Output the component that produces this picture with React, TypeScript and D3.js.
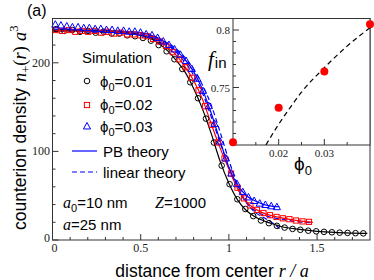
import React from "react";
import * as d3 from "d3";

// ---------- data ----------
// simulation, phi0 = 0.01 (black circles)
const simR01 = [0.022,0.067,0.112,0.156,0.201,0.245,0.29,0.335,0.379,0.424,0.468,0.513,0.558,0.602,0.647,0.691,0.736,0.781,0.825,0.87,0.915,0.959,1.004,1.048,1.093,1.138,1.182,1.227,1.272,1.316,1.361,1.405,1.45,1.495,1.539,1.584,1.628,1.673,1.718,1.762];
const simN01 = [238,236,237,235,236,234,235,233,233,231,230,228,225,220,213,204,193,178,160,137,110,84,63,46,35,27,22,19,16,14,12.5,11.5,10.5,9.8,9.2,8.7,8.3,8,7.7,7.5];
// simulation, phi0 = 0.02 (red squares)
const simR02 = [0.018,0.055,0.092,0.129,0.166,0.202,0.239,0.276,0.313,0.35,0.386,0.423,0.46,0.497,0.534,0.57,0.607,0.644,0.681,0.718,0.754,0.791,0.828,0.865,0.902,0.938,0.975,1.012,1.049,1.086,1.122,1.159,1.196,1.233,1.27,1.306,1.343,1.38,1.417,1.454];
const simN02 = [237,236,237,235,236,235,236,234,235,233,234,232,232,231,230,227,224,219,212,204,195,183,169,151,130,110,92,75,59,47,39,34,30.5,28,26,24.5,23.5,22,21,20.5];
// simulation, phi0 = 0.03 (blue triangles)
const simR03 = [0.016,0.048,0.081,0.113,0.145,0.177,0.209,0.242,0.274,0.306,0.338,0.37,0.403,0.435,0.467,0.499,0.531,0.564,0.596,0.628,0.66,0.692,0.725,0.757,0.789,0.821,0.853,0.886,0.918,0.95,0.982,1.014,1.046,1.079,1.111,1.143,1.175,1.207,1.24,1.272];
const simN03 = [243,242,241,240,240,239,239,238,238,237,237,236,236,235,235,234,232,231,228,224,220,215,209,202,193,182,168,151,131,111,92,75,63,54,48,44,41,39.5,38,37];

// PB theory (solid)
const pbR01 = [0,0.1,0.2,0.3,0.4,0.5,0.55,0.6,0.65,0.7,0.75,0.8,0.85,0.9,0.95,1.0,1.05,1.1,1.15,1.2,1.25,1.3,1.4,1.5,1.6,1.7,1.785];
const pbN01 = [237,236.5,236,235,233.5,231,228,222,214,203,190,171,148,120,89,64,45,33,26,21.5,18,15,12,9.8,8.5,7.8,7.4];
const pbR02 = [0,0.1,0.2,0.3,0.4,0.5,0.55,0.6,0.65,0.7,0.75,0.8,0.85,0.9,0.95,1.0,1.05,1.1,1.15,1.2,1.3,1.4,1.476];
const pbN02 = [236,236,235.5,235,234,232,230,225,218,209,196,180,159,131,104,80,58,43,35,30,25,21.5,20];
const pbR03 = [0,0.1,0.2,0.3,0.4,0.5,0.6,0.7,0.75,0.8,0.85,0.9,0.95,1.0,1.05,1.1,1.15,1.2,1.25,1.287];
const pbN03 = [238,237.5,237,236.5,235.5,234,228,214,204,190,170,143,112,82,62,50,44,40,38,37.5];

// linear theory (blue dashed)
const linR02 = [0,0.1,0.2,0.3,0.4,0.5,0.6,0.7,0.8,0.85,0.9,0.95,1.0,1.05,1.1,1.15,1.2,1.3,1.4,1.476];
const linN02 = [236,235.5,235,234.5,234,232.5,226,212,186,166,139,110,82,58,42,33,28,23.5,20.5,19.5];
const linR03 = [0,0.1,0.2,0.3,0.4,0.5,0.6,0.7,0.8,0.85,0.9,0.95,1.0,1.05,1.1,1.15,1.2,1.25,1.287];
const linN03 = [236,235.5,235,234.5,234,233,227,216,193,175,152,122,90,62,42,31,25,19,13];

// inset
const inPhi = [0.01, 0.02, 0.03, 0.04];
const inF = [0.7025, 0.7325, 0.764, 0.805];
const fitPhi = [0.0172, 0.02, 0.0226, 0.025, 0.0297, 0.035, 0.04];
const fitF = [0.7, 0.718, 0.733, 0.746, 0.766, 0.786, 0.802];

const xMajor = [0, 0.5, 1, 1.5];
const yMajor = [0, 100, 200];
const inXMajor = [0.02, 0.03];
const inYMajor = [0.75, 0.8];

// ---------- layout ----------
const W = 374, H = 280;
const L = 52.5, R = 370, T = 18.5, B = 240;
const IL = 233, IB = 145;

const x = d3.scaleLinear().domain([0, 1.8]).range([L, R]);
const y = d3.scaleLinear().domain([0, 250]).range([B, T]);
const ix = d3.scaleLinear().domain([0.01, 0.04]).range([IL, R]);
const iy = d3.scaleLinear().domain([0.7, 0.81]).range([IB, T]);

const SANS = "Liberation Sans, Arial, sans-serif";
const SERIF = "Liberation Serif, Times New Roman, serif";

function zip(a: number[], b: number[]) {
  return a.map((v, i) => [v, b[i]] as [number, number]);
}

const mainLine = d3.line<[number, number]>().x(d => x(d[0])).y(d => y(d[1])).curve(d3.curveMonotoneX);
const insetLine = d3.line<[number, number]>().x(d => ix(d[0])).y(d => iy(d[1])).curve(d3.curveMonotoneX);

const tri = (cx: number, cy: number, s: number) =>
  `M${cx},${cy - s * 0.62}L${cx + s * 0.55},${cy + s * 0.38}L${cx - s * 0.55},${cy + s * 0.38}Z`;

export default function App() {
  const xMinor = d3.range(1, 18).map(i => i / 10).filter(v => Math.abs(v * 2 - Math.round(v * 2)) > 1e-6);
  const yMinor = d3.range(1, 13).map(i => i * 20).filter(v => v % 100 !== 0);
  const inXMinor = [0.015, 0.025, 0.035];
  const inYMinor = [0.71, 0.72, 0.73, 0.74, 0.76, 0.77, 0.78, 0.79];

  const axisCol = "#333";

  return (
    <svg width={W} height={H} style={{ position: "absolute", left: 0, top: 0, background: "#fff" }}>
      <rect x={0} y={0} width={W} height={H} fill="#fff" />

      {/* main axes ticks */}
      {xMajor.map(v => (
        <line key={"xm" + v} x1={x(v)} x2={x(v)} y1={B} y2={B - 6} stroke={axisCol} strokeWidth={1} />
      ))}
      {xMinor.map(v => (
        <line key={"xn" + v} x1={x(v)} x2={x(v)} y1={B} y2={B - 3} stroke={axisCol} strokeWidth={1} />
      ))}
      {yMajor.map(v => (
        <line key={"ym" + v} x1={L} x2={L + 6} y1={y(v)} y2={y(v)} stroke={axisCol} strokeWidth={1} />
      ))}
      {yMinor.map(v => (
        <line key={"yn" + v} x1={L} x2={L + 3} y1={y(v)} y2={y(v)} stroke={axisCol} strokeWidth={1} />
      ))}
      {xMajor.map(v => (
        <text key={"xl" + v} x={x(v) + (v === 0 ? 2 : 0)} y={252} textAnchor="middle" fontFamily={SERIF} fontSize={12} fill="#222">
          {String(v)}
        </text>
      ))}
      {yMajor.map(v => (
        <text key={"yl" + v} x={50} y={v === 0 ? 242 : y(v) + 4} textAnchor="end" fontFamily={SERIF} fontSize={12} fill="#222">
          {String(v)}
        </text>
      ))}

      {/* theory lines */}
      <path d={mainLine(zip(linR03, linN03)) || ""} fill="none" stroke="#0000ff" strokeWidth={1.2} strokeDasharray="5,3" />
      <path d={mainLine(zip(linR02, linN02)) || ""} fill="none" stroke="#0000ff" strokeWidth={1.2} strokeDasharray="5,3" />
      <path d={mainLine(zip(pbR01, pbN01)) || ""} fill="none" stroke="#000" strokeWidth={1.2} />
      <path d={mainLine(zip(pbR02, pbN02)) || ""} fill="none" stroke="#ff0000" strokeWidth={1.2} />
      <path d={mainLine(zip(pbR03, pbN03)) || ""} fill="none" stroke="#0000ff" strokeWidth={1.2} />

      {/* simulation markers */}
      {simR01.map((r, i) => (
        <circle key={"c" + i} cx={x(r)} cy={y(simN01[i])} r={2.8} fill="none" stroke="#000" strokeWidth={1} />
      ))}
      {simR02.map((r, i) => (
        <rect key={"s" + i} x={x(r) - 2.6} y={y(simN02[i]) - 2.6} width={5.2} height={5.2} fill="none" stroke="#ff0000" strokeWidth={1} />
      ))}
      {simR03.map((r, i) => (
        <path key={"t" + i} d={tri(x(r), y(simN03[i]), 6.5)} fill="none" stroke="#0000ff" strokeWidth={1} />
      ))}

      {/* main frame */}
      <rect x={L} y={T} width={R - L} height={B - T} fill="none" stroke={axisCol} strokeWidth={1} />

      {/* inset */}
      <rect x={IL} y={T} width={R - IL} height={IB - T} fill="#fff" stroke={axisCol} strokeWidth={1} />
      {inXMajor.map(v => (
        <line key={"ixm" + v} x1={ix(v)} x2={ix(v)} y1={IB} y2={IB - 6} stroke={axisCol} strokeWidth={1} />
      ))}
      {inXMinor.map(v => (
        <line key={"ixn" + v} x1={ix(v)} x2={ix(v)} y1={IB} y2={IB - 3} stroke={axisCol} strokeWidth={1} />
      ))}
      {inYMajor.map(v => (
        <line key={"iym" + v} x1={IL} x2={IL + 6} y1={iy(v)} y2={iy(v)} stroke={axisCol} strokeWidth={1} />
      ))}
      {inYMinor.map(v => (
        <line key={"iyn" + v} x1={IL} x2={IL + 3} y1={iy(v)} y2={iy(v)} stroke={axisCol} strokeWidth={1} />
      ))}
      {inXMajor.map(v => (
        <text key={"ixl" + v} x={ix(v)} y={157} textAnchor="middle" fontFamily={SERIF} fontSize={11} fill="#222">
          {v.toFixed(2)}
        </text>
      ))}
      {inYMajor.map(v => (
        <text key={"iyl" + v} x={230} y={iy(v) + 4} textAnchor="end" fontFamily={SERIF} fontSize={11} fill="#222">
          {String(v)}
        </text>
      ))}
      <path d={insetLine(zip(fitPhi, fitF)) || ""} fill="none" stroke="#000" strokeWidth={1.2} strokeDasharray="5,3.5" />
      {inPhi.map((p, i) => (
        <circle key={"ip" + i} cx={ix(p)} cy={iy(inF[i])} r={4} fill="#ff0000" />
      ))}
      <text x={208} y={66} fontFamily={SERIF} fontStyle="italic" fontSize={21} fill="#000">
        f
        <tspan fontFamily={SANS} fontStyle="normal" fontSize={15} dx={1} dy={2}>in</tspan>
      </text>
      <text x={294} y={170} fontFamily={SANS} fontSize={19} fill="#000">
        ϕ<tspan fontSize={13} dy={5}>0</tspan>
      </text>

      {/* legend */}
      <text x={82} y={63} fontFamily={SANS} fontSize={15} fill="#000">Simulation</text>
      <circle cx={87} cy={81} r={2.8} fill="none" stroke="#000" strokeWidth={1} />
      <text x={100} y={87} fontFamily={SANS} fontSize={15} fill="#000">
        ϕ<tspan fontSize={11} dy={4}>0</tspan><tspan dy={-4}>=0.01</tspan>
      </text>
      <rect x={84.4} y={102.4} width={5.2} height={5.2} fill="none" stroke="#ff0000" strokeWidth={1} />
      <text x={100} y={110} fontFamily={SANS} fontSize={15} fill="#000">
        ϕ<tspan fontSize={11} dy={4}>0</tspan><tspan dy={-4}>=0.02</tspan>
      </text>
      <path d={tri(87, 126.5, 6.5)} fill="none" stroke="#0000ff" strokeWidth={1} />
      <text x={100} y={132} fontFamily={SANS} fontSize={15} fill="#000">
        ϕ<tspan fontSize={11} dy={4}>0</tspan><tspan dy={-4}>=0.03</tspan>
      </text>
      <line x1={72} x2={97} y1={151} y2={151} stroke="#0000ff" strokeWidth={1.2} />
      <text x={103} y={157} fontFamily={SANS} fontSize={15} fill="#000">PB theory</text>
      <line x1={72} x2={97} y1={172} y2={172} stroke="#0000ff" strokeWidth={1.2} strokeDasharray="5,3" />
      <text x={103} y={178} fontFamily={SANS} fontSize={15} fill="#000">linear theory</text>

      {/* annotations */}
      <text x={63} y={208} fontFamily={SANS} fontSize={15} fill="#000">
        <tspan fontFamily={SERIF} fontStyle="italic" fontSize={16}>a</tspan>
        <tspan fontSize={11} dy={4}>0</tspan>
        <tspan dy={-4}>=10 nm</tspan>
      </text>
      <text x={155} y={208} fontFamily={SANS} fontSize={15} fill="#000">
        <tspan fontFamily={SERIF} fontStyle="italic" fontSize={16}>Z</tspan>=1000
      </text>
      <text x={63} y={230} fontFamily={SANS} fontSize={15} fill="#000">
        <tspan fontFamily={SERIF} fontStyle="italic" fontSize={16}>a</tspan>=25 nm
      </text>

      {/* title */}
      <text x={27} y={16} fontFamily={SANS} fontSize={16} fill="#000">(a)</text>

      {/* axis labels */}
      <text x={212} y={277} textAnchor="middle" fontFamily={SANS} fontSize={17.5} fill="#000">
        distance from center{"  "}
        <tspan fontFamily={SERIF} fontStyle="italic" fontSize={18}>r / a</tspan>
      </text>
      <text transform="translate(26,230) rotate(-90)" textAnchor="start" fontFamily={SANS} fontSize={17.5} fill="#000">
        counterion density
        <tspan dx={6} fontFamily={SERIF} fontStyle="italic" fontSize={18.5}>n</tspan>
        <tspan fontFamily={SERIF} fontSize={12.5} dy={4}>+</tspan>
        <tspan fontFamily={SERIF} fontSize={18.5} dy={-4}>(</tspan>
        <tspan fontFamily={SERIF} fontStyle="italic" fontSize={18.5}>r</tspan>
        <tspan fontFamily={SERIF} fontSize={18.5}>)</tspan>
        <tspan dx={5} fontFamily={SERIF} fontStyle="italic" fontSize={18.5}>a</tspan>
        <tspan fontFamily={SERIF} fontSize={12.5} dy={-8}>3</tspan>
      </text>
    </svg>
  );
}
